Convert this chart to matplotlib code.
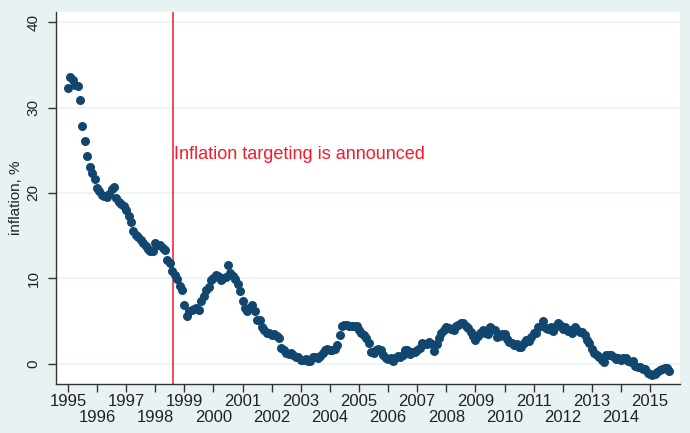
import numpy as np
import matplotlib
matplotlib.use('Agg')
import matplotlib.pyplot as plt

plt.rcParams['font.family'] = ['Liberation Sans', 'DejaVu Sans']

# monthly CPI inflation, y/y %, Jan 1995 .. Sep 2015
infl_1995 = [32.3, 33.6, 33.2, 32.6, 32.5, 30.9, 27.8, 26.1, 24.3, 23.0, 22.3, 21.6]
infl_1996 = [20.6, 20.2, 19.8, 19.6, 19.5, 19.9, 20.5, 20.7, 19.4, 19.0, 18.7, 18.5]
infl_1997 = [18.0, 17.3, 16.6, 15.6, 15.1, 14.8, 14.5, 14.2, 13.8, 13.4, 13.2, 13.2]
infl_1998 = [14.2, 13.9, 13.9, 13.6, 13.3, 12.2, 11.8, 10.9, 10.4, 9.9, 9.1, 8.6]
infl_1999 = [6.9, 5.6, 6.2, 6.3, 6.4, 6.5, 6.3, 7.4, 8.0, 8.7, 9.0, 9.8]
infl_2000 = [10.1, 10.4, 10.3, 9.8, 10.0, 10.2, 11.6, 10.7, 10.3, 9.9, 9.3, 8.5]
infl_2001 = [7.4, 6.6, 6.2, 6.6, 6.9, 6.2, 5.2, 5.1, 4.3, 4.0, 3.6, 3.6]
infl_2002 = [3.4, 3.5, 3.3, 3.0, 1.9, 1.6, 1.3, 1.2, 1.3, 1.1, 0.8, 0.8]
infl_2003 = [0.5, 0.5, 0.6, 0.3, 0.4, 0.8, 0.8, 0.7, 0.9, 1.3, 1.6, 1.7]
infl_2004 = [1.6, 1.6, 1.7, 2.2, 3.4, 4.4, 4.6, 4.6, 4.4, 4.5, 4.5, 4.4]
infl_2005 = [4.0, 3.6, 3.4, 3.0, 2.5, 1.4, 1.3, 1.6, 1.8, 1.6, 1.0, 0.7]
infl_2006 = [0.6, 0.7, 0.4, 0.7, 0.9, 0.8, 1.1, 1.6, 1.6, 1.2, 1.4, 1.4]
infl_2007 = [1.6, 1.9, 2.5, 2.3, 2.3, 2.6, 2.3, 1.5, 2.3, 3.0, 3.6, 4.0]
infl_2008 = [4.3, 4.2, 4.1, 4.0, 4.4, 4.6, 4.8, 4.8, 4.5, 4.2, 3.7, 3.3]
infl_2009 = [2.8, 3.3, 3.6, 4.0, 3.6, 3.5, 4.3, 4.1, 4.0, 3.1, 3.3, 3.5]
infl_2010 = [3.5, 2.9, 2.6, 2.4, 2.2, 2.3, 2.0, 2.0, 2.5, 2.8, 2.7, 3.1]
infl_2011 = [3.6, 3.6, 4.3, 4.5, 5.0, 4.2, 4.1, 4.3, 3.9, 4.3, 4.8, 4.6]
infl_2012 = [4.1, 4.3, 3.9, 4.0, 3.6, 4.3, 4.0, 3.8, 3.8, 3.4, 2.8, 2.4]
infl_2013 = [1.7, 1.3, 1.0, 0.8, 0.5, 0.2, 1.1, 1.1, 1.0, 0.8, 0.6, 0.7]
infl_2014 = [0.5, 0.7, 0.7, 0.3, 0.2, 0.3, -0.2, -0.3, -0.3, -0.6, -0.6, -1.0]
infl_2015 = [-1.2, -1.3, -1.2, -0.9, -0.7, -0.6, -0.5, -0.5, -0.8]

inflation = (infl_1995 + infl_1996 + infl_1997 + infl_1998 + infl_1999 + infl_2000
             + infl_2001 + infl_2002 + infl_2003 + infl_2004 + infl_2005 + infl_2006
             + infl_2007 + infl_2008 + infl_2009 + infl_2010 + infl_2011 + infl_2012
             + infl_2013 + infl_2014 + infl_2015)
months = 1995 + np.arange(len(inflation)) / 12.0

it_date = 1998.6
it_label = 'Inflation targeting is announced'
years = list(range(1995, 2016))
yticks = [0, 10, 20, 30, 40]

bg = '#e9f2f3'
navy = '#11466f'

fig = plt.figure(figsize=(6.9, 4.33), dpi=100, facecolor=bg)
ax = fig.add_axes([56/690, 49/433, 624/690, 372/433])
ax.set_facecolor('white')

ax.set_xlim(1994.59, 2016.03)
ax.set_ylim(-2.34, 41.17)

for y in yticks:
    ax.axhline(y, color=bg, lw=1.2, zorder=0)

ax.axvline(it_date, color='#f41a2a', lw=1.1, zorder=1)
ax.text(it_date + 0.06, 23.95, it_label, color='#f41a2a', fontsize=13,
        ha='left', va='baseline')

ax.scatter(months, inflation, s=42, color=navy, linewidths=0, zorder=3)

for s in ['top', 'right']:
    ax.spines[s].set_visible(False)
for s in ['left', 'bottom']:
    ax.spines[s].set_color('#333333')
    ax.spines[s].set_linewidth(1.0)

odd = [y for y in years if y % 2 == 1]
even = [y for y in years if y % 2 == 0]
ax.set_xticks(odd)
ax.set_xticklabels([str(y) for y in odd])
ax.set_xticks(even, minor=True)
ax.set_xticklabels([str(y) for y in even], minor=True)
ax.tick_params(axis='x', which='major', length=6, width=1, color='#333333',
               labelsize=12, pad=1.5, labelcolor='#222222')
ax.tick_params(axis='x', which='minor', length=6, width=1, color='#333333',
               labelsize=12, pad=13, labelcolor='#222222')

ax.set_yticks(yticks)
ax.set_yticklabels([str(y) for y in yticks], rotation=90, va='center')
ax.tick_params(axis='y', length=6, width=1, color='#333333', labelsize=11,
               pad=5, labelcolor='#222222')
ax.set_ylabel('inflation, %', fontsize=11, color='#222222', labelpad=3)

fig.savefig('out.png', dpi=100, facecolor=bg)
